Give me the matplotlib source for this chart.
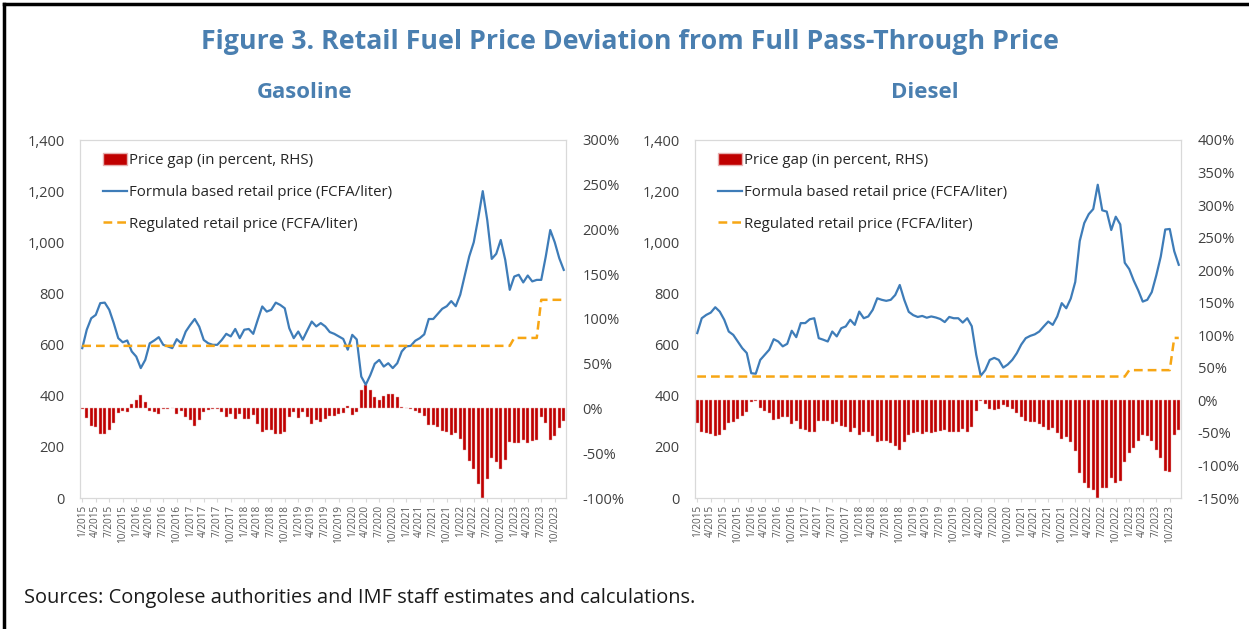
import numpy as np
import matplotlib.pyplot as plt
from matplotlib.patches import Patch
from matplotlib.lines import Line2D

plt.rcParams['font.family'] = ['Open Sans', 'DejaVu Sans']

# months 1/2015 .. 12/2023
months = [f"{m}/{y}" for y in range(2015, 2024) for m in range(1, 13)]

gas_formula = [
    586, 658, 703, 716, 762, 764, 736, 684, 625, 609, 616, 573,
    553, 508, 540, 605, 616, 629, 599, 593, 586, 621, 605, 651,
    677, 700, 670, 618, 605, 599, 599, 618, 642, 632, 661, 625,
    658, 661, 642, 697, 749, 729, 736, 764, 755, 742, 664, 625,
    651, 619, 655, 690, 671, 684, 671, 649, 642, 632, 622, 580,
    638, 620, 475, 443, 480, 525, 540, 514, 527, 508, 527, 573,
    593, 595, 615, 625, 640, 700, 700, 720, 740, 750, 770, 750,
    795, 870, 945, 1000, 1095, 1200, 1087, 935, 955, 1009, 931, 814,
    866, 873, 843, 870, 847, 853, 853, 944, 1048, 1000, 938, 892,
]
gas_regulated = [595] * 96 + [626] * 6 + [775] * 6
gas_gap = [
    -1, -11, -19, -21, -28, -29, -24, -16, -5, -3, -4, 5,
    9, 15, 7, -3, -4, -6, -0.5, -0.5, 1, -6, -3, -9,
    -13, -19, -13, -4, -2, -0.5, -0.5, -4, -9, -6, -12, -6,
    -12, -12, -7, -17, -26, -24, -24, -29, -28, -26, -9, -4,
    -11, -4, -9, -17, -13, -15, -12, -8, -8, -6, -5, 3,
    -7, -4, 21, 26, 21, 13, 9, 14, 16, 16, 13, 2,
    1, -0.5, -3, -5, -8, -18, -18, -21, -25, -26, -30, -27,
    -34, -46, -59, -68, -84, -100, -79, -55, -60, -68, -57, -37,
    -38, -38, -35, -38, -36, -35, -9, -16, -35, -31, -22, -14,
]

dsl_formula = [
    645, 703, 716, 725, 746, 729, 697, 651, 638, 612, 586, 567,
    488, 486, 540, 560, 580, 621, 612, 593, 603, 654, 629, 684,
    684, 699, 703, 625, 619, 612, 651, 632, 664, 671, 697, 677,
    729, 703, 710, 736, 781, 775, 771, 775, 794, 833, 775, 728,
    715, 708, 712, 705, 710, 706, 700, 688, 708, 703, 703, 686,
    703, 672, 560, 478, 500, 540, 548, 540, 510, 522, 540, 566,
    600, 625, 634, 640, 651, 671, 690, 677, 710, 762, 742, 780,
    845, 1005, 1075, 1110, 1130, 1225, 1125, 1120, 1048, 1100, 1070, 920,
    895, 850, 812, 768, 775, 805, 870, 944, 1050, 1052, 965, 912,
]
dsl_regulated = [475] * 96 + [500] * 10 + [626] * 2
dsl_gap = [
    -35, -48, -50, -51, -55, -53, -45, -35, -34, -29, -24, -18,
    -2, -1.5, -12, -17, -20, -30, -29, -25, -26, -37, -32, -44,
    -45, -48, -48, -32, -31, -31, -37, -34, -40, -41, -48, -42,
    -53, -48, -49, -55, -64, -63, -63, -65, -70, -76, -64, -53,
    -50, -49, -51, -48, -50, -49, -47, -45, -49, -48, -48, -44,
    -48, -41, -17, -1, -5, -13, -15, -13, -7, -10, -13, -19,
    -26, -31, -33, -34, -37, -41, -45, -43, -50, -60, -56, -64,
    -78, -112, -127, -135, -137, -150, -135, -135, -119, -127, -124, -94,
    -81, -73, -63, -53, -55, -63, -76, -89, -109, -110, -53, -45,
]

TITLE_C = '#4a7fb0'
BLUE = '#3e7cb8'
ORANGE = '#f7a614'
RED = '#c00000'
GRID = '#d9d9d9'
TXT = '#404040'

fig = plt.figure(figsize=(12.49, 6.29), dpi=100)
W, H = 1249, 629


def panel(left_px, formula, regulated, gap, pct_lim, pct_ticks):
    ax = fig.add_axes([left_px / W, 1 - 498 / H, 486 / W, 358 / H])
    ax2 = ax.twinx()
    x = np.arange(len(months))
    ax2.bar(x, gap, width=0.66, color=RED, edgecolor='#e6b0b0', linewidth=0.3)
    ax.plot(x, formula, color=BLUE, lw=1.6)
    ax.plot(x, regulated, color=ORANGE, lw=1.8, dashes=(3.5, 2))
    ax.set_zorder(ax2.get_zorder() + 1)
    ax.patch.set_visible(False)

    ax.set_xlim(-0.5, len(months) - 0.5)
    ax.set_ylim(0, 1400)
    ax.set_yticks(range(0, 1401, 200))
    ax.set_yticklabels([f"{v:,}" for v in range(0, 1401, 200)])
    ax2.set_ylim(*pct_lim)
    ax2.set_yticks(pct_ticks)
    ax2.set_yticklabels([f"{t}%" for t in pct_ticks])

    ax.set_xticks(x[::3])
    ax.set_xticklabels(months[::3], rotation=90, fontsize=7.2, color='#595959')
    ax.tick_params(axis='x', length=3, color=GRID, pad=2)
    ax.tick_params(axis='y', length=0, labelsize=10.5, labelcolor=TXT, pad=11)
    ax2.tick_params(axis='y', length=0, labelsize=10.5, labelcolor=TXT, pad=12)
    for a in (ax, ax2):
        for s in a.spines.values():
            s.set_color(GRID)
            s.set_linewidth(0.8)

    handles = [Patch(facecolor=RED, edgecolor='#e6b0b0'),
               Line2D([], [], color=BLUE, lw=1.6),
               Line2D([], [], color=ORANGE, lw=1.8, dashes=(3.5, 2))]
    labels = ['Price gap (in percent, RHS)',
              'Formula based retail price (FCFA/liter)',
              'Regulated retail price (FCFA/liter)']
    ax.legend(handles, labels, loc='upper left', bbox_to_anchor=(0.025, 0.992),
              frameon=False, fontsize=10.8, handlelength=1.6, handleheight=0.8,
              handletextpad=0.15, labelspacing=1.12, borderpad=0.2,
              labelcolor='#262626')
    return ax


panel(80, gas_formula, gas_regulated, gas_gap, (-100, 300), list(range(-100, 301, 50)))
panel(695, dsl_formula, dsl_regulated, dsl_gap, (-150, 400), list(range(-150, 401, 50)))

fig.text(630 / W, 1 - 42 / H, 'Figure 3. Retail Fuel Price Deviation from Full Pass-Through Price',
         ha='center', va='center', fontsize=19.3, fontweight='bold', color=TITLE_C)
fig.text(305 / W, 1 - 92 / H, 'Gasoline', ha='center', va='center',
         fontsize=16, fontweight='bold', color=TITLE_C)
fig.text(925 / W, 1 - 92 / H, 'Diesel', ha='center', va='center',
         fontsize=16, fontweight='bold', color=TITLE_C)
fig.text(24 / W, 1 - 598 / H, 'Sources: Congolese authorities and IMF staff estimates and calculations.',
         ha='left', va='center', fontsize=14.4, color='#1a1a1a')

# outer box lines
fig.add_artist(Line2D([4 / W, 1], [1 - 4 / H, 1 - 4 / H], color='black', lw=2.5))
fig.add_artist(Line2D([4 / W, 4 / W], [0, 1 - 4 / H], color='black', lw=2.5))

fig.savefig('out.png', dpi=100)
